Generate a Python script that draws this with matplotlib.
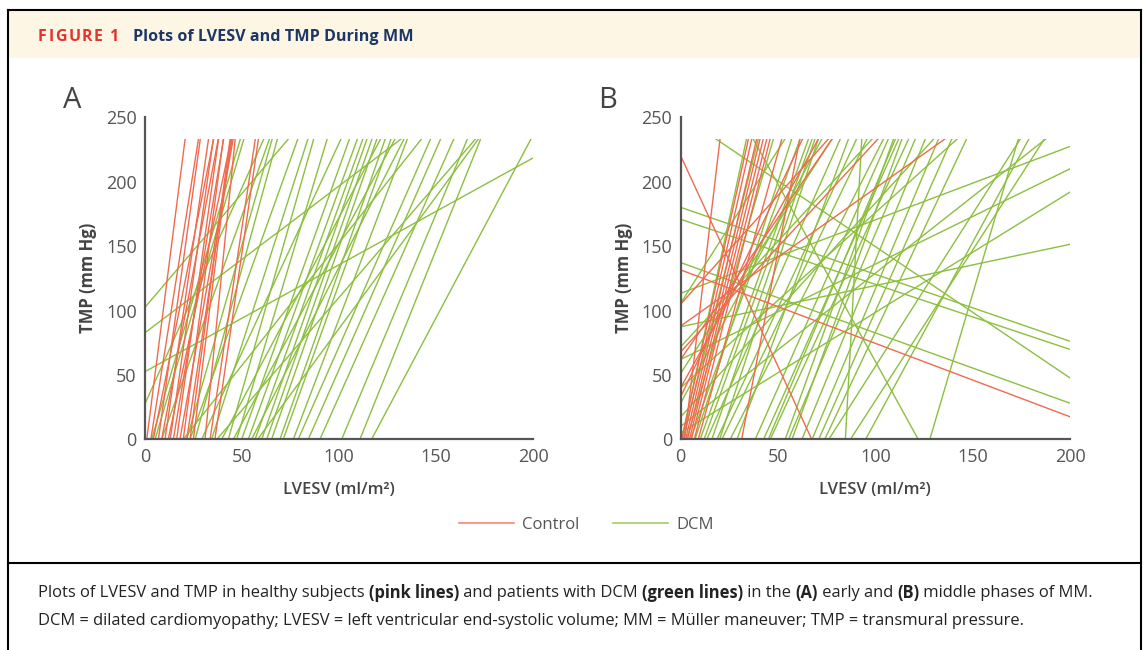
import numpy as np
import matplotlib
matplotlib.use('Agg')
import matplotlib.pyplot as plt
from matplotlib.patches import Rectangle
from matplotlib.lines import Line2D

# ESPVR-like lines: TMP = slope * (LVESV - v0)
# --- panel A, early phase of MM ---
ctrl_v0_a = [0.9, 3, 4.3, 6.9, 8.6, 10.3, 12, 13, 14.6, 16.3, 18, 19.7, 21.5, 23.2, 24.9, 30.9, 33.5, 36]
ctrl_slope_a = [11.8, 9.5, 7.5, 10.8, 8.0, 10.4, 7.2, 10.5, 9.0, 10.8, 8.5, 11.3, 10.0, 11.3, 12.0, 15.0, 10.0, 10.4]

dcm_v0_a = [-57.9, -72.6, -63.3, -8.2,
            3.4, 5.2, 8.6, 19.7, 21.5, 23.2, 25.8, 29.2, 34.3, 39.5, 42.9, 45.5, 47.2, 49.8,
            53.2, 54.9, 56.7, 60.1, 62.7, 65.2, 69.5, 71.2, 76.4, 78.9, 84.1, 90.1, 101.3,
            110.7, 116.7, 37, 58]
dcm_slope_a = [1.77, 1.14, 0.83, 3.36,
               5.1, 5.1, 4.2, 1.9, 5.3, 4.2, 5.5, 3.25, 4.7, 2.85, 5.3, 2.8, 5.0, 4.2,
               4.15, 2.97, 4.2, 4.3, 4.3, 4.3, 4.3, 4.2, 3.97, 3.42, 3.42, 3.38, 3.6,
               3.75, 2.84, 1.75, 2.05]

# --- panel B, middle phase of MM ---
ctrl_v0_b = [67.3, 230.7, 2, 0.5, 1.5, 2.5, 3.5, 4.5, 5.5, 7, 9,
             -62.1, -82.2, -41.7, -28.2, -14.7, -10.3, 31.3]
ctrl_slope_b = [-3.27, -0.57, 12.8, 6.8, 6.66, 6.38, 6.26, 6.15, 6.02, 5.99, 5.43,
                1.69, 1.07, 1.63, 2.2, 2.73, 3.2, 7.8]

dcm_v0_b = [3.1, 7.4, 10, 13.4, 16, 18.6, 21.2, 25.4, 28.9, 38.3, 42.6, 46, 53.7, 55.4,
            57.2, 62.3, 67.5, 70.9, 76.1, 84.6, 87.2, 128, 0.5, 1, 5, 12, 20, 45, 95, 74,
            -198.9, -44.4, -273.1, -43.8, -83.8, -21.9, -9.9, -10.5, -5.3, -29.4, -8.4,
            346.3, 338.2, 251.3, 246.7, 122.0]
dcm_slope_b = [5.24, 4.7, 4.19, 3.4, 4.4, 3.25, 3.13, 2.96, 4.07, 3.41, 3.36, 3.28, 4.19, 3.58,
               4.13, 3.68, 3.59, 3.41, 2.37, 27.7, 2.34, 5.13, 7.0, 6.0, 4.14, 4.2, 4.6, 3.57, 2.78, 3.2,
               0.57, 2.38, 0.32, 1.64, 0.74, 2.34, 2.83, 1.66, 0.935, 1.36, 1.19,
               -0.52, -0.505, -0.546, -1.02, -2.75]

x_ticks = [0, 50, 100, 150, 200]
y_ticks = [0, 50, 100, 150, 200, 250]

RED = '#EF6A4E'
GREEN = '#8CBF3F'
GREY = '#555555'
TOP = 233  # lines are cut off here in the original
FONT = ['Open Sans', 'DejaVu Sans']

plt.rcParams['font.family'] = FONT

W, H = 1144, 650
fig = plt.figure(figsize=(W / 100, H / 100), dpi=100)
renderer = fig.canvas.get_renderer()


def fx(px):
    return px / W


def fy(py):
    return 1 - py / H


# --- frame and header ---
fig.patches.append(Rectangle((fx(8), fy(58)), fx(1141) - fx(8), fy(10) - fy(58),
                             transform=fig.transFigure, facecolor='#FDF6E5', edgecolor='none'))
for xs, ys in [([8, 8], [10, 650]), ([8, 1141], [10, 10]), ([1141, 1141], [10, 650]), ([8, 1141], [563, 563])]:
    fig.lines.append(Line2D([fx(v) for v in xs], [fy(v) for v in ys], transform=fig.transFigure,
                            color='black', lw=1.5))

# "FIGURE 1" is letter-spaced in the original: place glyph by glyph
label = 'FIGURE 1'
glyphs = []
widths = []
for ch in label:
    t = fig.text(0, fy(37), ch, color='#E5322D', fontsize=11.5, fontweight='bold', va='center')
    glyphs.append(t)
    widths.append(t.get_window_extent(renderer=renderer).width if ch != ' ' else 3)
gap = (80 - sum(widths)) / (len(label) - 1)
x = 38
for t, w in zip(glyphs, widths):
    t.set_x(fx(x))
    x += w + gap
fig.text(fx(133), fy(37), 'Plots of LVESV and TMP During MM', color='#1C3766', fontsize=11.6,
         fontweight='bold', va='center')


def panel(left, right, letter, ctrl_v0, ctrl_slope, dcm_v0, dcm_slope):
    ax = fig.add_axes([fx(left), fy(439.3), fx(right) - fx(left), fy(117.3) - fy(439.3)])
    ax.set_xlim(0, 200)
    ax.set_ylim(0, 250)
    xs = np.array([0.0, 200.0])
    for v0s, slopes, col in [(dcm_v0, dcm_slope, GREEN), (ctrl_v0, ctrl_slope, RED)]:
        for v0, s in zip(v0s, slopes):
            ln, = ax.plot(xs, s * (xs - v0), color=col, lw=1.0)
            ln.set_clip_path(Rectangle((0, 0), 200, TOP, transform=ax.transData))
    for side in ['top', 'right']:
        ax.spines[side].set_visible(False)
    for side in ['left', 'bottom']:
        ax.spines[side].set_color(GREY)
        ax.spines[side].set_linewidth(1.6)
        ax.spines[side].set_zorder(5)
    ax.set_xticks(x_ticks)
    ax.set_yticks(y_ticks)
    ax.tick_params(length=0, pad=6, labelsize=13, labelcolor=GREY)
    cx = (left + right) / 2
    fig.text(fx(cx), fy(490), 'LVESV (ml/m²)', ha='center', va='center', fontsize=12,
             fontweight='semibold', color='#444444')
    fig.text(fx(left - 57), fy(278), 'TMP (mm Hg)', ha='center', va='center', rotation=90,
             fontsize=12, fontweight='bold', color='#444444')
    fig.text(fx(left - 73), fy(100), letter, ha='center', va='center', fontsize=21, color='#444444')
    return ax


panel(145, 533.3, 'A', ctrl_v0_a, ctrl_slope_a, dcm_v0_a, dcm_slope_a)
panel(680.7, 1070, 'B', ctrl_v0_b, ctrl_slope_b, dcm_v0_b, dcm_slope_b)

handles = [Line2D([], [], color=RED, lw=1.2, alpha=0.8, label='Control'),
           Line2D([], [], color=GREEN, lw=1.2, alpha=0.8, label='DCM')]
fig.legend(handles=handles, loc='center', bbox_to_anchor=(fx(586), fy(525)), ncol=2, frameon=False,
           fontsize=12, handlelength=3.3, handletextpad=0.5, columnspacing=2.0, labelcolor=GREY)

# --- caption with bold runs ---
line1 = [('Plots of LVESV and TMP in healthy subjects ', 'normal'), ('(pink lines)', 'bold'),
         (' and patients with DCM ', 'normal'), ('(green lines)', 'bold'), (' in the ', 'normal'),
         ('(A)', 'bold'), (' early and ', 'normal'), ('(B)', 'bold'), (' middle phases of MM.', 'normal')]
line2 = [('DCM = dilated cardiomyopathy; LVESV = left ventricular end-systolic volume; '
          'MM = Müller maneuver; TMP = transmural pressure.', 'normal')]


def draw_runs(x_px, y_px, runs, size):
    texts = []
    x = x_px
    for s, w in runs:
        t = fig.text(fx(x), fy(y_px), s, fontsize=size, fontweight=w, color='#222222', va='center')
        x += t.get_window_extent(renderer=renderer).width
        texts.append(t)
    return texts, x - x_px


texts, width = draw_runs(38, 593, line1, 11)
for t in texts:
    t.remove()
size = 11 * 1060 / width
draw_runs(38, 593, line1, size)
draw_runs(38, 621, line2, size)

fig.savefig('out.png', dpi=100, facecolor='white')
